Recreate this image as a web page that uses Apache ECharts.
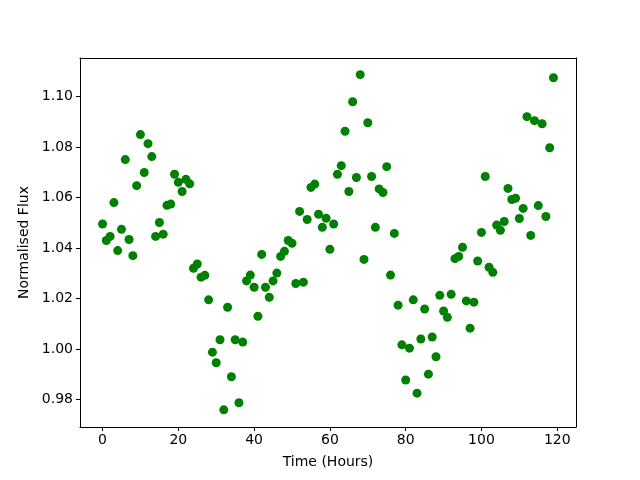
<!DOCTYPE html>
<html>
<head>
<meta charset="utf-8">
<script src="https://cdn.jsdelivr.net/npm/echarts@6/dist/echarts.min.js"></script>
<style>
  html, body { margin: 0; padding: 0; background: #fff; }
  #chartdiv { width: 640px; height: 480px; }
</style>
</head>
<body>
<div id="chartdiv"></div>
<script>
const hours = [
  0, 1, 2, 3, 4, 5, 6, 7, 8, 9, 10, 11, 12, 13, 14, 15, 16, 17, 18, 19,
  20, 21, 22, 23, 24, 25, 26, 27, 28, 29, 30, 31, 32, 33, 34, 35, 36, 37, 38, 39,
  40, 41, 42, 43, 44, 45, 46, 47, 48, 49, 50, 51, 52, 53, 54, 55, 56, 57, 58, 59,
  60, 61, 62, 63, 64, 65, 66, 67, 68, 69, 70, 71, 72, 73, 74, 75, 76, 77, 78, 79,
  80, 81, 82, 83, 84, 85, 86, 87, 88, 89, 90, 91, 92, 93, 94, 95, 96, 97, 98, 99,
  100, 101, 102, 103, 104, 105, 106, 107, 108, 109, 110, 111, 112, 113, 114, 115, 116, 117, 118, 119
];

const flux = [
  1.0495, 1.0430, 1.0446, 1.0580, 1.0390, 1.0474, 1.0750, 1.0434, 1.0370, 1.0647,
  1.0849, 1.0699, 1.0813, 1.0762, 1.0446, 1.0501, 1.0455, 1.0569, 1.0574, 1.0692,
  1.0660, 1.0624, 1.0672, 1.0654, 1.0320, 1.0337, 1.0285, 1.0292, 1.0195, 0.9988,
  0.9946, 1.0037, 0.9760, 1.0166, 0.9891, 1.0037, 0.9788, 1.0028, 1.0270, 1.0293,
  1.0245, 1.0130, 1.0375, 1.0245, 1.0205, 1.0270, 1.0301, 1.0367, 1.0387, 1.0430,
  1.0419, 1.0260, 1.0545, 1.0265, 1.0513, 1.0640, 1.0653, 1.0534, 1.0482, 1.0518,
  1.0395, 1.0495, 1.0692, 1.0726, 1.0862, 1.0624, 1.0979, 1.0679, 1.1086, 1.0355,
  1.0896, 1.0683, 1.0482, 1.0634, 1.0620, 1.0722, 1.0293, 1.0458, 1.0174, 1.0017,
  0.9878, 1.0004, 1.0195, 0.9826, 1.0040, 1.0159, 0.9901, 1.0048, 0.9970, 1.0213,
  1.0151, 1.0126, 1.0217, 1.0358, 1.0367, 1.0403, 1.0191, 1.0083, 1.0186, 1.0349,
  1.0462, 1.0683, 1.0324, 1.0304, 1.0491, 1.0470, 1.0505, 1.0636, 1.0592, 1.0597,
  1.0517, 1.0557, 1.0920, 1.0450, 1.0904, 1.0568, 1.0892, 1.0525, 1.0797, 1.1074
];

const xTicks = [0, 20, 40, 60, 80, 100, 120];
const yTicks = [0.98, 1.00, 1.02, 1.04, 1.06, 1.08, 1.10];

const FONT = "DejaVu Sans";
const X_RANGE = [-5.95, 124.95];
const Y_RANGE = [0.9692, 1.1152];

// plain frame line for the top / right sides (matplotlib spines)
function frameAxis(position, range) {
  return {
    type: "value",
    position: position,
    min: range[0],
    max: range[1],
    axisLine: { show: true, onZero: false, lineStyle: { color: "#000", width: 1 } },
    axisTick: { show: false },
    axisLabel: { show: false },
    splitLine: { show: false }
  };
}

function renderScatter() {
  const chart = echarts.init(document.getElementById("chartdiv"), null, { renderer: "canvas" });
  const points = hours.map((h, i) => [h, flux[i]]);

  const option = {
    animation: false,
    backgroundColor: "#fff",
    grid: { left: 80, right: 64, top: 58, bottom: 53 },
    xAxis: [
      {
        type: "value",
        position: "bottom",
        min: X_RANGE[0],
        max: X_RANGE[1],
        name: "Time (Hours)",
        nameLocation: "middle",
        nameGap: 28,
        nameTextStyle: { color: "#000", fontFamily: FONT, fontSize: 14 },
        axisLine: { show: true, onZero: false, lineStyle: { color: "#000", width: 1 } },
        axisTick: { show: true, length: 4, lineStyle: { color: "#000" }, customValues: xTicks },
        axisLabel: { color: "#000", fontFamily: FONT, fontSize: 14, margin: 6, customValues: xTicks },
        splitLine: { show: false }
      },
      frameAxis("top", X_RANGE)
    ],
    yAxis: [
      {
        type: "value",
        position: "left",
        min: Y_RANGE[0],
        max: Y_RANGE[1],
        name: "Normalised Flux",
        nameLocation: "middle",
        nameGap: 46,
        nameTextStyle: { color: "#000", fontFamily: FONT, fontSize: 14 },
        axisLine: { show: true, onZero: false, lineStyle: { color: "#000", width: 1 } },
        axisTick: { show: true, length: 4, lineStyle: { color: "#000" }, customValues: yTicks },
        axisLabel: {
          color: "#000", fontFamily: FONT, fontSize: 14, margin: 7,
          customValues: yTicks,
          formatter: v => v.toFixed(2)
        },
        splitLine: { show: false }
      },
      frameAxis("right", Y_RANGE)
    ],
    series: [
      {
        type: "scatter",
        data: points,
        symbolSize: 9,
        itemStyle: { color: "#008000", opacity: 1 }
      }
    ]
  };

  chart.setOption(option);
}

window.onload = function() {
  renderScatter();
};
</script>
</body>
</html>
